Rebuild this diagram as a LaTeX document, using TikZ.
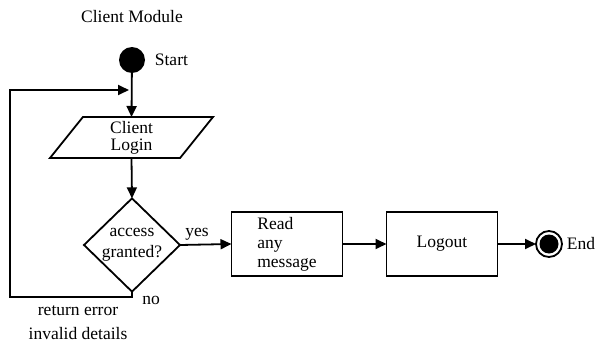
\documentclass[tikz,border=0pt]{standalone}
\usepackage{fontspec}
\setmainfont{Liberation Serif}
\usetikzlibrary{arrows.meta,shapes.geometric}
\begin{document}
\begin{tikzpicture}[x=1pt,y=-1pt, line width=1.8pt,
  >={Triangle[length=11pt,width=10pt]},
  font=\fontsize{17.5}{18}\selectfont,
  box/.style={draw, rectangle, minimum width=111pt, minimum height=64pt, inner sep=0pt, outer sep=0pt},
  lbl/.style={inner sep=0pt},
  conn/.style={->}]
\useasboundingbox (0,0) rectangle (598,343);
\node[lbl] (title) at (132,17) {Client Module};
\node[circle, fill=black, minimum size=26pt, inner sep=0pt, outer sep=0pt] (start) at (132,60) {};
\node[lbl, anchor=west] (startl) at (154,60) {Start};
\node[trapezium, draw, trapezium left angle=45, trapezium right angle=135,
      trapezium stretches body, minimum width=163pt, minimum height=41pt,
      inner sep=0pt, outer sep=0pt, align=center,
      font=\fontsize{17.5}{17}\selectfont] (login) at (131.5,137.5) {Client\\Login};
\node[diamond, draw, minimum width=96pt, minimum height=86pt, inner sep=0pt, outer sep=0pt,
      align=center, font=\fontsize{17.5}{21}\selectfont] (dia) at (132,245) {access\\granted?};
\node[box, align=left, font=\fontsize{17.5}{19}\selectfont] (read) at (287,244) {Read\\any\\message};
\node[box] (logout) at (442,244) {Logout};
\node[circle, draw, minimum size=26pt, inner sep=0pt, outer sep=0pt] (end) at (549,244) {};
\fill (end.center) circle (9.5pt);
\node[lbl, anchor=west] (endl) at (566,244) {End};
\node[lbl] (yes) at (197,234) {yes};
\node[lbl] (no) at (151,300) {no};
\node[lbl] (ret) at (78,311) {return error};
\node[lbl] (inv) at (78,334) {invalid details};
\coordinate (lb) at (10,297);
\coordinate (lt) at (10,90);
\coordinate (loopend) at (129,90);
\draw[conn] (start) -- (login.north);
\draw[conn] (login.south) -- (dia.north);
\draw[conn] (dia.east) -- (read.west);
\draw[conn] (read.east) -- (logout.west);
\draw[conn] (logout.east) -- (end.west);
\draw[conn] (dia.south) |- (lb) -- (lt) -- (loopend);
\end{tikzpicture}
\end{document}
